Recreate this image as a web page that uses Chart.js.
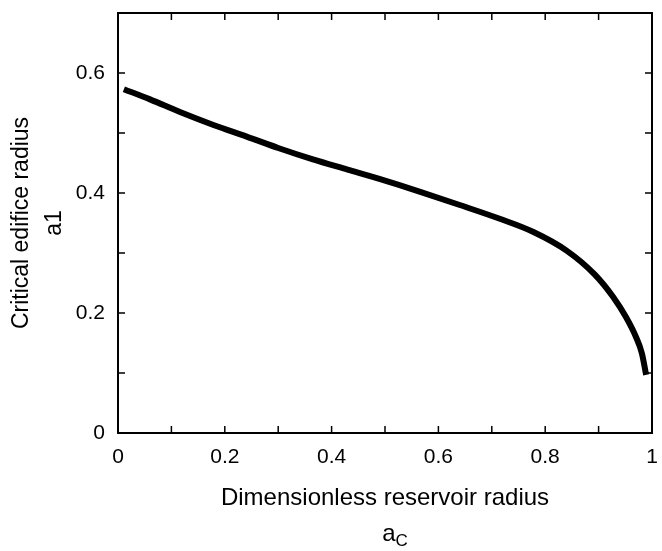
<!DOCTYPE html>
<html>
<head>
<meta charset="utf-8">
<script src="https://cdn.jsdelivr.net/npm/chart.js@4/dist/chart.umd.min.js"></script>
<style>
    html, body { margin: 0; padding: 0; background: #fff; }
    #box { width: 662px; height: 551px; }
</style>
</head>
<body>
<div id="box"><canvas id="edifice-chart"></canvas></div>
<script>
// reservoir radius (x) and critical edifice radius (y)
var radiusX = [0.011, 0.06, 0.116, 0.18, 0.241, 0.30, 0.365, 0.43, 0.491, 0.566, 0.640, 0.715, 0.778, 0.840, 0.893, 0.927, 0.952, 0.970, 0.981, 0.989];
var edificeY = [0.573, 0.556, 0.535, 0.513, 0.494, 0.475, 0.456, 0.439, 0.423, 0.402, 0.380, 0.357, 0.335, 0.304, 0.264, 0.227, 0.192, 0.160, 0.133, 0.097];

// tick marks (every 0.1) and which of them get a label
var xTicks = [0, 0.1, 0.2, 0.3, 0.4, 0.5, 0.6, 0.7, 0.8, 0.9, 1];
var yTicks = [0, 0.1, 0.2, 0.3, 0.4, 0.5, 0.6, 0.7];
var xLabels = ["0", "0.2", "0.4", "0.6", "0.8", "1"];
var yLabels = ["0", "0.2", "0.4", "0.6"];

var xTitle = "Dimensionless reservoir radius";
var yTitle = ["Critical edifice radius", "a1"];

var fontName = "'Liberation Sans', Arial, Helvetica, sans-serif";

var points = [];
for (var i = 0; i < radiusX.length; i++) {
    points.push({ x: radiusX[i], y: edificeY[i] });
}

function labelFor(list, v) {
    var s = (Math.round(v * 10) / 10).toString();
    return list.indexOf(s) >= 0 ? s : "";
}

// fixed axis size, no extra room for half labels at the ends
function fixSize(scale, w, h) {
    if (w) scale.width = w;
    if (h) scale.height = h;
    scale.paddingTop = 0;
    scale.paddingBottom = 0;
    scale.paddingLeft = 0;
    scale.paddingRight = 0;
}

// frame on all four sides with ticks pointing inward, plus the "a_c" line under the x title
var framePlugin = {
    id: "frame",
    afterDraw: function(chart) {
        var ctx = chart.ctx;
        var a = chart.chartArea;
        var xs = chart.scales.x, ys = chart.scales.y;
        ctx.save();
        ctx.strokeStyle = "#000";
        ctx.lineWidth = 2;
        ctx.strokeRect(a.left, a.top, a.right - a.left, a.bottom - a.top);
        ctx.lineWidth = 1.5;
        ctx.beginPath();
        for (var i = 1; i < xTicks.length - 1; i++) {
            var px = xs.getPixelForValue(xTicks[i]);
            ctx.moveTo(px, a.bottom); ctx.lineTo(px, a.bottom - 7);
            ctx.moveTo(px, a.top); ctx.lineTo(px, a.top + 7);
        }
        for (var j = 1; j < yTicks.length - 1; j++) {
            var py = ys.getPixelForValue(yTicks[j]);
            ctx.moveTo(a.left, py); ctx.lineTo(a.left + 7, py);
            ctx.moveTo(a.right, py); ctx.lineTo(a.right - 7, py);
        }
        ctx.stroke();

        // a with subscript C
        var cx = (a.left + a.right) / 2 + 10;
        ctx.fillStyle = "#000";
        ctx.textBaseline = "alphabetic";
        ctx.font = "24px " + fontName;
        var wA = ctx.measureText("a").width;
        ctx.font = "17px " + fontName;
        var wC = ctx.measureText("C").width;
        var startX = cx - (wA + wC) / 2;
        ctx.font = "24px " + fontName;
        ctx.fillText("a", startX, 541);
        ctx.font = "17px " + fontName;
        ctx.fillText("C", startX + wA, 546);
        ctx.restore();
    }
};

var edificeChart = new Chart(document.getElementById("edifice-chart"), {
    type: "line",
    data: {
        datasets: [{
            label: "critical edifice radius",
            data: points,
            borderColor: "#000",
            borderWidth: 6,
            borderCapStyle: "butt",
            borderJoinStyle: "round",
            cubicInterpolationMode: "monotone",
            pointRadius: 0,
            fill: false
        }]
    },
    options: {
        responsive: true,
        maintainAspectRatio: false,
        animation: false,
        layout: { autoPadding: false, padding: { top: 13, right: 10, left: 0, bottom: 0 } },
        plugins: {
            legend: { display: false },
            tooltip: { enabled: false }
        },
        scales: {
            x: {
                type: "linear",
                min: 0,
                max: 1,
                grid: { display: false, drawTicks: false },
                border: { display: false },
                afterFit: function(scale) { fixSize(scale, 0, 118); },
                ticks: {
                    stepSize: 0.1,
                    autoSkip: false,
                    maxRotation: 0,
                    padding: 12,
                    color: "#000",
                    font: { family: fontName, size: 21 },
                    callback: function(v) { return labelFor(xLabels, v); }
                },
                title: {
                    display: true,
                    text: xTitle,
                    color: "#000",
                    font: { family: fontName, size: 24 },
                    padding: { top: 0, bottom: 38 }
                }
            },
            y: {
                type: "linear",
                min: 0,
                max: 0.7,
                grid: { display: false, drawTicks: false },
                border: { display: false },
                afterFit: function(scale) { fixSize(scale, 118, 0); },
                ticks: {
                    stepSize: 0.1,
                    autoSkip: false,
                    padding: 13,
                    color: "#000",
                    font: { family: fontName, size: 21 },
                    callback: function(v) { return labelFor(yLabels, v); }
                },
                title: {
                    display: true,
                    text: yTitle,
                    color: "#000",
                    font: { family: fontName, size: 23, lineHeight: 1.45 },
                    padding: { top: 5, bottom: 0 }
                }
            }
        }
    },
    plugins: [framePlugin]
});
</script>
</body>
</html>
